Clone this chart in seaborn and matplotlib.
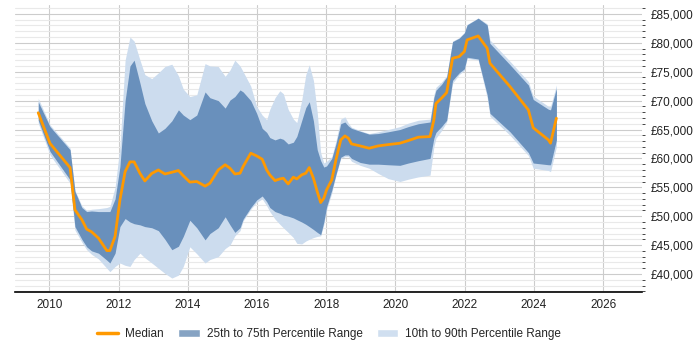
import numpy as np
import pandas as pd
import matplotlib
matplotlib.use("Agg")
import matplotlib.pyplot as plt
import matplotlib.ticker as mticker
from matplotlib.patches import Patch
from matplotlib.lines import Line2D
import seaborn as sns

# dates as fractional years
dates = [2009.68, 2010.02, 2010.60, 2010.74, 2010.94, 2011.08, 2011.22, 2011.42, 2011.66, 2011.75,
         2011.90, 2012.04, 2012.19, 2012.33, 2012.45, 2012.62, 2012.76, 2012.96, 2013.15, 2013.34,
         2013.54, 2013.73, 2013.87, 2014.06, 2014.26, 2014.50, 2014.64, 2014.88, 2015.08, 2015.22,
         2015.36, 2015.51, 2015.60, 2015.82, 2015.99, 2016.15, 2016.28, 2016.37, 2016.52, 2016.66,
         2016.76, 2016.90, 2017.05, 2017.15, 2017.29, 2017.41, 2017.51, 2017.63, 2017.74, 2017.84,
         2017.93, 2018.01, 2018.16, 2018.28, 2018.42, 2018.54, 2018.64, 2018.73, 2018.98, 2019.24,
         2019.50, 2019.79, 2020.13, 2020.37, 2020.66, 2021.00, 2021.11, 2021.17, 2021.33, 2021.48,
         2021.65, 2021.84, 2021.99, 2022.07, 2022.39, 2022.65, 2022.73, 2023.31, 2023.84, 2023.98,
         2024.42, 2024.48, 2024.65]

median = [67900, 62600, 58400, 51100, 49400, 47750, 47300, 46200, 44050, 44050,
          46500, 52800, 57700, 59400, 59400, 57400, 56100, 57400, 58000, 57300,
          57600, 57900, 57000, 55900, 56000, 55200, 55700, 58000, 58900, 58300,
          57300, 57440, 58600, 60900, 60430, 59860, 58000, 57150, 56160, 56450,
          56570, 55590, 56750, 56450, 57150, 57440, 58410, 56570, 54260, 52360,
          53110, 54550, 56280, 59740, 63200, 63890, 63500, 62510, 62160, 61760,
          62160, 62390, 62630, 63080, 63670, 63780, 66660, 69500, 70420, 71390,
          77330, 77610, 78480, 80500, 81190, 79060, 76470, 72420, 68390, 65300,
          63200, 62630, 66960]

p25 = [66600, 61200, 56300, 48200, 46000, 44700, 44000, 43600, 42400, 41900,
       43600, 48200, 49600, 49000, 48700, 48500, 48200, 48000, 47500, 46000,
       44200, 44800, 46500, 49300, 48000, 45900, 47000, 48000, 49900, 48500,
       47200, 48000, 49500, 51500, 52800, 53500, 52500, 51500, 50800, 50500,
       50200, 50000, 49700, 49400, 49000, 48600, 48200, 47700, 47200, 46800,
       49000, 51600, 54500, 57200, 60200, 60600, 60600, 60000, 59300, 59000,
       59000, 58900, 58800, 59200, 59600, 60000, 63500, 64500, 65500, 66600,
       73500, 74800, 75500, 77500, 77200, 71000, 67800, 64600, 61000, 59200,
       58900, 58900, 63200]

p75 = [69800, 65500, 61500, 54300, 51500, 50800, 50900, 50800, 50800, 50800,
       53000, 58600, 70000, 76000, 77000, 73000, 69500, 66500, 64400, 65200,
       66500, 68400, 67500, 66700, 67500, 71500, 70500, 70000, 68700, 70100,
       70700, 71850, 71500, 70000, 67800, 65200, 64500, 63600, 63200, 63500,
       63300, 62500, 62800, 63800, 66500, 68800, 69800, 66500, 61500, 59600,
       58500, 58700, 60000, 62500, 66000, 66300, 65600, 65200, 64700, 64200,
       64300, 64600, 65000, 65500, 66000, 66300, 70500, 71800, 72800, 74100,
       80200, 80800, 81700, 83100, 84260, 83100, 79900, 76200, 72700, 70200,
       68500, 68400, 72100]

p10 = [66100, 60600, 55700, 47600, 45500, 44200, 43400, 42600, 41000, 40400,
       41300, 41900, 41500, 41300, 42500, 43600, 42800, 41900, 41000, 40100,
       39300, 39800, 41300, 44700, 43500, 41900, 42500, 43000, 44400, 45000,
       46600, 47500, 49200, 51200, 52400, 53000, 51800, 50800, 49500, 48600,
       48000, 47200, 46300, 45300, 45200, 45700, 46000, 46300, 46500, 46600,
       48500, 51100, 54000, 57000, 60000, 60300, 60300, 59500, 58800, 58300,
       57400, 56500, 56000, 56400, 56800, 57100, 62000, 63500, 64800, 66300,
       73000, 74500, 75200, 77300, 77000, 70500, 67300, 64000, 60500, 58300,
       57900, 57700, 62000]

p90 = [70400, 65800, 61800, 54500, 51800, 51000, 51200, 51300, 51500, 51700,
       55000, 62000, 77000, 81000, 80300, 77000, 74500, 73800, 74800, 75900,
       76300, 74300, 72000, 70700, 71000, 76400, 76000, 75900, 74200, 75300,
       77000, 76000, 75000, 72500, 69000, 67500, 66700, 68500, 70500, 71700,
       71200, 68500, 66800, 66200, 70000, 74500, 76200, 73500, 68000, 61000,
       59200, 59500, 60300, 63000, 66800, 67200, 66100, 65400, 64800, 64300,
       64600, 65000, 65500, 66100, 66600, 66800, 71000, 72300, 73200, 74300,
       80300, 80900, 81800, 83200, 84300, 83300, 80500, 76800, 73300, 70800,
       69000, 69000, 72700]

df = pd.DataFrame({"date": dates, "median": median, "p25": p25, "p75": p75,
                   "p10": p10, "p90": p90})

sns.set_style("whitegrid")
plt.rcParams['font.family'] = ['Liberation Sans', 'DejaVu Sans']

light = "#ccdcee"
dark = "#6990bc"
orange = "#ff9900"

fig = plt.figure(figsize=(7, 3.5), dpi=100)
ax = fig.add_axes([0.021, 0.166, 0.896, 0.82])

ax.fill_between(df["date"], df["p10"], df["p90"], color=light, lw=0, zorder=2)
ax.fill_between(df["date"], df["p25"], df["p75"], color=dark, lw=0, zorder=3)
sns.lineplot(data=df, x="date", y="median", color=orange, lw=2, ax=ax, zorder=4)

ax.set_xlim(2009.0, 2027.12)
ax.set_ylim(36900, 86560)
ax.xaxis.set_major_locator(mticker.MultipleLocator(2))
ax.xaxis.set_major_formatter(mticker.FuncFormatter(lambda v, p: f"{int(v)}"))
ax.yaxis.set_major_locator(mticker.MultipleLocator(5000))
ax.yaxis.set_minor_locator(mticker.MultipleLocator(1000))
ax.yaxis.set_major_formatter(mticker.FuncFormatter(lambda v, p: f"£{int(v):,}"))
ax.yaxis.tick_right()
ax.set_xlabel("")
ax.set_ylabel("")

ax.grid(which="major", color="#cccccc", lw=0.8)
ax.grid(which="minor", axis="y", color="#e9e9e9", lw=0.8)
ax.set_axisbelow(True)
for s in ["top", "left", "right"]:
    ax.spines[s].set_visible(False)
ax.spines["bottom"].set_color("black")
ax.spines["bottom"].set_linewidth(1.2)
ax.tick_params(axis="both", labelsize=8.5, colors="#222222", length=0)
ax.tick_params(axis="y", pad=6)
ax.tick_params(axis="x", pad=5)

handles = [Line2D([0], [0], color=orange, lw=2.5),
           Patch(facecolor="#86a3c3"),
           Patch(facecolor="#d0dff0")]
labels = ["Median", "25th to 75th Percentile Range", "10th to 90th Percentile Range"]
fig.legend(handles, labels, loc="center", bbox_to_anchor=(0.47, 0.045), ncol=3,
           frameon=False, fontsize=8.5, handlelength=1.8, columnspacing=1.2,
           handletextpad=0.6)

fig.savefig("out.png", dpi=100)
